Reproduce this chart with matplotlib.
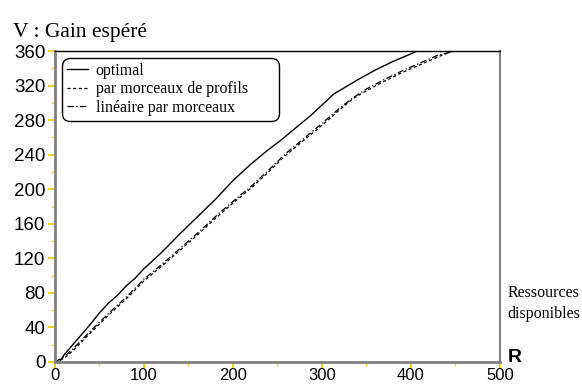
"""Gain espéré V en fonction des ressources disponibles R."""

import matplotlib
matplotlib.use("Agg")
import matplotlib.pyplot as plt
from matplotlib.ticker import MultipleLocator

# courbe optimale
r_opt = [0, 5, 10, 20, 30, 40, 50, 60, 70, 80, 90, 100, 120, 140, 160, 180,
         200, 220, 240, 253, 267, 287, 313, 339, 360, 380, 403, 407]
v_opt = [0, 0, 8, 20, 32, 44, 57, 68, 77, 88, 97, 108, 127, 148, 168, 188,
         210, 229, 246, 256, 268, 285, 310, 326, 338, 348, 358, 360]

# par morceaux de profils
r_prof = [0, 10, 20, 40, 60, 80, 100, 120, 140, 160, 180, 200, 220, 240, 260,
          280, 300, 320, 335, 350, 370, 390, 410, 430, 447]
v_prof = [0, 4, 13, 34, 54, 73, 94, 111, 129, 147, 166, 184, 201, 220, 240,
          257, 274, 292, 305, 314, 325, 335, 344, 353, 360]

# linéaire par morceaux
r_lin = [0, 10, 20, 40, 60, 80, 100, 120, 140, 160, 180, 200, 220, 240, 260,
         280, 300, 320, 335, 350, 370, 390, 410, 430, 450]
v_lin = [0, 6, 15, 36, 56, 75, 96, 113, 131, 149, 168, 186, 203, 222, 242,
         259, 276, 294, 306, 316, 327, 337, 346, 355, 360]

fig = plt.figure(figsize=(5.82, 3.87), dpi=100)
ax = fig.add_axes([0.0945, 0.0646, 0.7645, 0.8036])

ax.plot(r_opt, v_opt, color="black", lw=1.0, label="optimal")
ax.plot(r_prof, v_prof, color="black", lw=0.9, ls=(0, (2.5, 2)),
        label="par morceaux de profils")
ax.plot(r_lin, v_lin, color="black", lw=0.9, ls=(0, (5, 2, 1, 2)),
        label="linéaire par morceaux")

ax.set_xlim(0, 500)
ax.set_ylim(0, 360)
ax.xaxis.set_major_locator(MultipleLocator(100))
ax.xaxis.set_minor_locator(MultipleLocator(50))
ax.yaxis.set_major_locator(MultipleLocator(40))
ax.yaxis.set_minor_locator(MultipleLocator(20))

gold = "#f2d21a"
ax.tick_params(which="major", length=5, width=1.5, color=gold)
ax.tick_params(which="minor", length=3, width=1.0, color=gold)
ax.tick_params(axis="y", which="major", labelsize=13.5, pad=2)
ax.tick_params(axis="x", which="major", length=4, labelsize=12, pad=0)
for lab in ax.get_xticklabels() + ax.get_yticklabels():
    lab.set_family("Liberation Sans")

for side in ("left", "bottom"):
    ax.spines[side].set_color("#808080")
    ax.spines[side].set_linewidth(2)
ax.spines["right"].set_color("#808080")
ax.spines["right"].set_linewidth(1.5)
ax.spines["top"].set_color("black")
ax.spines["top"].set_linewidth(1)

# cadre de légende : x 0.016 -> 0.503, haut à 0.975 (coord. axes)
leg = ax.legend(loc="upper left", bbox_to_anchor=(0.016, 0.5, 0.487, 0.477),
                mode="expand", borderaxespad=0,
                prop={"family": "Liberation Serif", "size": 11.5},
                handlelength=1.3, handletextpad=0.5, labelspacing=0.15,
                borderpad=0.3, fancybox=True, framealpha=1,
                edgecolor="black")
leg.get_frame().set_linewidth(1)
leg.get_frame().set_boxstyle("round", pad=0, rounding_size=0.5)

fig.text(0.022, 0.905, "V : Gain espéré", family="Liberation Serif",
         fontsize=15.5)
fig.text(0.872, 0.215, "Ressources\ndisponibles", family="Liberation Serif",
         fontsize=11.5, linespacing=1.45, va="center")
fig.text(0.872, 0.065, "R", family="Liberation Sans", fontweight="bold",
         fontsize=14)

plt.savefig("out.png", dpi=100)
